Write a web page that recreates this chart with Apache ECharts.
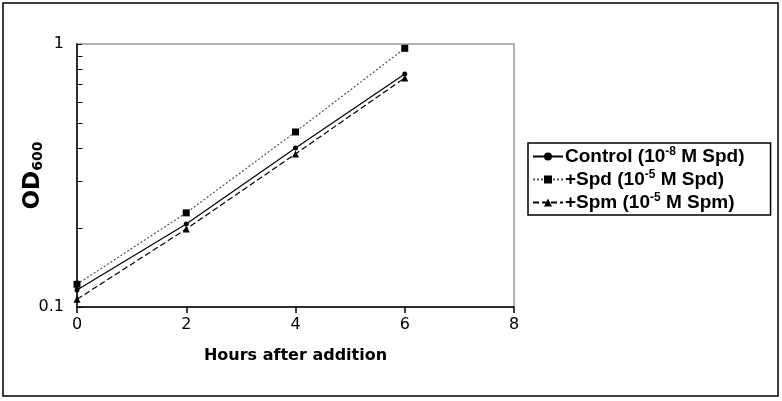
<!DOCTYPE html>
<html>
<head>
<meta charset="utf-8">
<script src="https://cdn.jsdelivr.net/npm/echarts@6/dist/echarts.min.js"></script>
<style>
  html, body { margin: 0; padding: 0; background: #fff; }
  #chart { width: 782px; height: 401px; }
</style>
</head>
<body>
<div id="chart"></div>
<script>
// hours after addition
const hours = [0, 2, 4, 6];
// OD600 readings
const controlOD = [0.116, 0.207, 0.402, 0.769];
const spdOD = [0.122, 0.228, 0.463, 0.963];
const spmOD = [0.107, 0.198, 0.382, 0.743];
// minor ticks of the log axis
const minorTicks = [0.2, 0.3, 0.4, 0.5, 0.6, 0.7, 0.8, 0.9];

const pairs = ys => hours.map((h, i) => [h, ys[i]]);

const chart = echarts.init(document.getElementById('chart'));

chart.setOption({
  animation: false,
  textStyle: {fontFamily: 'DejaVu Sans'},
  graphic: [{
    type: 'rect',
    shape: {x: 3, y: 3, width: 775, height: 393},
    style: {fill: 'none', stroke: '#000', lineWidth: 1.5},
    silent: true
  }],
  grid: {
    left: 77, right: 268, top: 44, bottom: 94,
    outerBoundsMode: 'none',
    containLabel: false,
    show: true, borderColor: '#999', borderWidth: 1.5
  },
  legend: {
    orient: 'vertical',
    left: 528, top: 143,
    padding: [3, 26, 3, 4],
    itemGap: 3,
    itemWidth: 30,
    itemHeight: 10,
    borderColor: '#000',
    borderWidth: 1.5,
    borderRadius: 0,
    data: ['control', 'spd', 'spm'],
    formatter: name => ({
      control: 'Control (10{sup|-8} M Spd)',
      spd: '+Spd (10{sup|-5} M Spd)',
      spm: '+Spm (10{sup|-5} M Spm)'
    })[name],
    textStyle: {
      fontFamily: 'Liberation Sans',
      fontWeight: 'bold',
      fontSize: 19,
      color: '#000',
      padding: [0, 0, 0, -3],
      rich: {
        sup: {
          fontFamily: 'Liberation Sans',
          fontWeight: 'bold',
          fontSize: 12,
          color: '#000',
          verticalAlign: 'top',
          padding: [0, 0, 9, 0]
        }
      }
    }
  },
  xAxis: {
    type: 'value',
    min: 0, max: 8, interval: 2,
    name: 'Hours after addition',
    nameLocation: 'middle',
    nameGap: 41,
    nameTextStyle: {fontSize: 16, fontWeight: 'bold', color: '#000'},
    axisLine: {lineStyle: {color: '#000', width: 1.5}},
    axisTick: {length: 6, lineStyle: {color: '#000', width: 1.5}},
    axisLabel: {fontSize: 16, color: '#000', margin: 10},
    splitLine: {show: false}
  },
  yAxis: {
    type: 'log',
    logBase: 10,
    min: 0.1, max: 1,
    name: '{od|OD}{sub|600}',
    nameLocation: 'middle',
    nameRotate: 90,
    nameGap: 32,
    nameMoveOverlap: false,
    nameTextStyle: {
      rich: {
        od: {fontSize: 23, fontWeight: 'bold', color: '#000', fontFamily: 'DejaVu Sans'},
        sub: {fontSize: 14, fontWeight: 'bold', color: '#000', fontFamily: 'DejaVu Sans',
              verticalAlign: 'bottom', padding: [9, 0, 0, 0]}
      }
    },
    axisLine: {show: true, lineStyle: {color: '#000', width: 1.5}},
    axisTick: {show: true, inside: true, length: 5, lineStyle: {color: '#000'}},
    axisLabel: {fontSize: 16, color: '#000', margin: 13},
    splitLine: {show: false}
  },
  series: [
    {
      name: 'control',
      type: 'line',
      data: pairs(controlOD),
      symbol: 'circle',
      symbolSize: 5,
      itemStyle: {color: '#000'},
      lineStyle: {color: '#000', width: 1.2},
      markLine: {
        silent: true,
        symbol: 'none',
        label: {show: false},
        lineStyle: {color: '#000', type: 'solid', width: 1},
        data: minorTicks.map(v => [{coord: [0, v]}, {coord: [0.1, v]}])
      }
    },
    {
      name: 'spd',
      type: 'line',
      data: pairs(spdOD),
      symbol: 'rect',
      symbolSize: 7,
      itemStyle: {color: '#000'},
      lineStyle: {color: '#555', width: 1.2, type: [2, 2]}
    },
    {
      name: 'spm',
      type: 'line',
      data: pairs(spmOD),
      symbol: 'triangle',
      symbolSize: 7,
      itemStyle: {color: '#000'},
      lineStyle: {color: '#000', width: 1.2, type: [6, 3]}
    }
  ]
});
</script>
</body>
</html>
